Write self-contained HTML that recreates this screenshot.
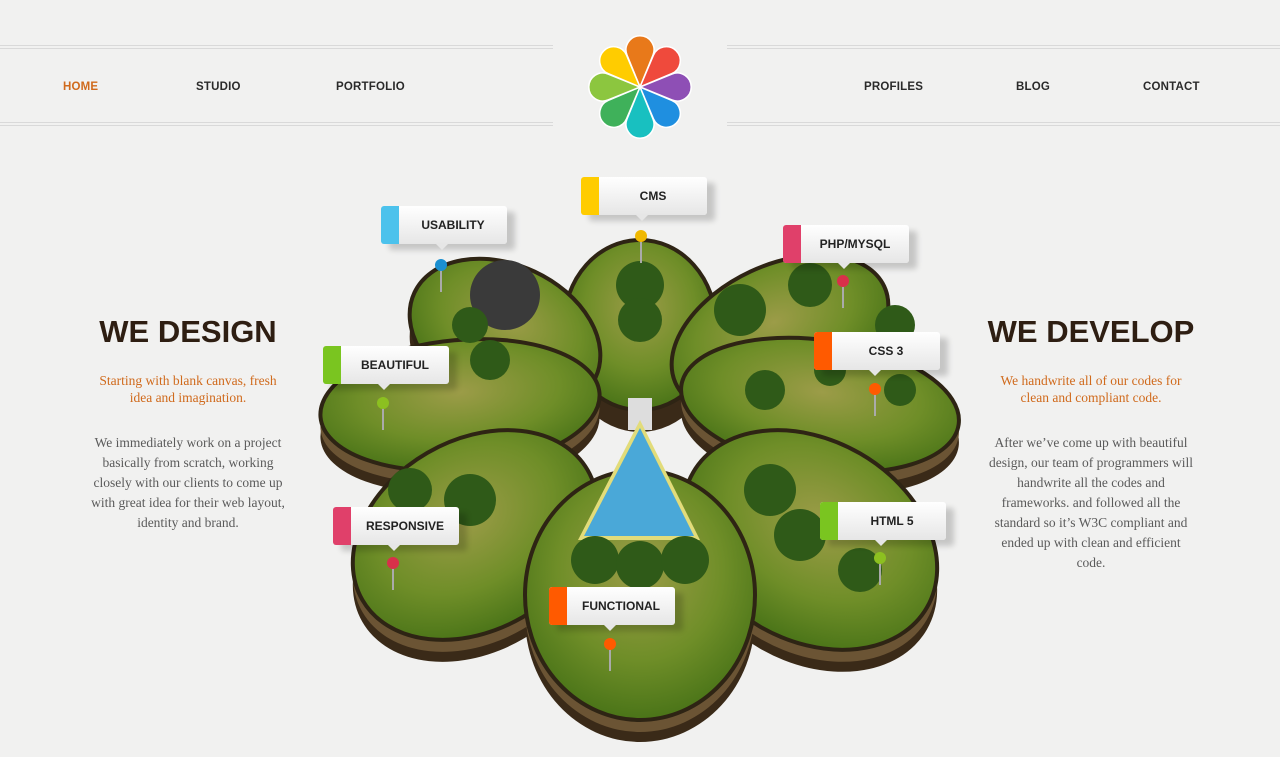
<!DOCTYPE html>
<html><head><meta charset="utf-8"><style>
*{margin:0;padding:0;box-sizing:border-box}
body{width:1280px;height:757px;background:#f1f1f0;position:relative;overflow:hidden;font-family:"Liberation Sans",sans-serif}
.hl{position:absolute;height:4px;border-top:1px solid #d9d9d9;border-bottom:1px solid #d9d9d9}
.nav{position:absolute;top:81px;font-size:11.5px;font-weight:bold;color:#2a2a2a;letter-spacing:.2px}
.h{position:absolute;font-size:31px;font-weight:bold;color:#2e1e12;text-align:center;white-space:nowrap}
.sub{position:absolute;font-family:"Liberation Serif",serif;font-size:13.5px;color:#d06a1c;text-align:center;line-height:17px}
.p{position:absolute;font-family:"Liberation Serif",serif;font-size:13.5px;color:#5a5a5a;text-align:center;line-height:20px}
.lab{position:absolute;width:126px;height:38px;background:linear-gradient(#fff,#e6e6e6);border-radius:3px;box-shadow:8px 6px 6px rgba(0,0,0,.18);font-size:12px;font-weight:bold;color:#222;line-height:38px;padding-left:18px;text-align:center}
.lab i{position:absolute;left:0;top:0;width:18px;height:38px;border-radius:3px 0 0 3px}
.lab:after{content:"";position:absolute;left:55px;bottom:-6px;border:6px solid transparent;border-top-color:#e6e6e6;border-bottom:0}
</style></head><body>
<div class="hl" style="left:0;width:553px;top:45px"></div>
<div class="hl" style="left:0;width:553px;top:122px"></div>
<div class="hl" style="left:727px;width:553px;top:45px"></div>
<div class="hl" style="left:727px;width:553px;top:122px"></div>
<div class="nav" style="left:63px;color:#d06a1c">HOME</div>
<div class="nav" style="left:196px">STUDIO</div>
<div class="nav" style="left:336px">PORTFOLIO</div>
<div class="nav" style="left:864px">PROFILES</div>
<div class="nav" style="left:1016px">BLOG</div>
<div class="nav" style="left:1143px">CONTACT</div>

<svg style="position:absolute;left:585px;top:32px" width="110" height="110" viewBox="-55 -55 110 110">
<g stroke="#fff" stroke-width="1.5">
<path fill="#e8791a" d="M0 0 L-13 -32 A14 14 0 1 1 13 -32 Z"/>
<path transform="rotate(45)" fill="#ef4a3c" d="M0 0 L-13 -32 A14 14 0 1 1 13 -32 Z"/>
<path transform="rotate(90)" fill="#8e4fb5" d="M0 0 L-13 -32 A14 14 0 1 1 13 -32 Z"/>
<path transform="rotate(135)" fill="#1f8fe0" d="M0 0 L-13 -32 A14 14 0 1 1 13 -32 Z"/>
<path transform="rotate(180)" fill="#18c0c0" d="M0 0 L-13 -32 A14 14 0 1 1 13 -32 Z"/>
<path transform="rotate(225)" fill="#3fb15a" d="M0 0 L-13 -32 A14 14 0 1 1 13 -32 Z"/>
<path transform="rotate(270)" fill="#8cc63f" d="M0 0 L-13 -32 A14 14 0 1 1 13 -32 Z"/>
<path transform="rotate(315)" fill="#ffcc00" d="M0 0 L-13 -32 A14 14 0 1 1 13 -32 Z"/>
</g></svg>

<div class="h" style="left:80px;width:216px;top:314px">WE DESIGN</div>
<div class="sub" style="left:90px;width:196px;top:372px">Starting with blank canvas, fresh idea and imagination.</div>
<div class="p" style="left:86px;width:204px;top:433px">We immediately work on a project basically from scratch, working closely with our clients to come up with great idea for their web layout, identity and brand.</div>
<div class="h" style="left:980px;width:222px;top:314px">WE DEVELOP</div>
<div class="sub" style="left:992px;width:198px;top:372px">We handwrite all of our codes for clean and compliant code.</div>
<div class="p" style="left:988px;width:206px;top:433px">After we’ve come up with beautiful design, our team of programmers will handwrite all the codes and frameworks. and followed all the standard so it’s W3C compliant and ended up with clean and efficient code.</div>

<svg style="position:absolute;left:0;top:0" width="1280" height="757">
<defs>
<radialGradient id="g" cx="50%" cy="40%" r="60%"><stop offset="0" stop-color="#9c9c48"/><stop offset=".6" stop-color="#6f8e28"/><stop offset="1" stop-color="#4a7418"/></radialGradient>
</defs>
<g fill="#3a2a18" transform="translate(0,22)">
<ellipse cx="640" cy="325" rx="76" ry="85"/>
<ellipse cx="505" cy="335" rx="100" ry="70" transform="rotate(25 505 335)"/>
<ellipse cx="460" cy="405" rx="140" ry="65" transform="rotate(-5 460 405)"/>
<ellipse cx="475" cy="535" rx="130" ry="95" transform="rotate(-30 475 535)"/>
<ellipse cx="640" cy="595" rx="115" ry="125"/>
<ellipse cx="810" cy="540" rx="135" ry="100" transform="rotate(30 810 540)"/>
<ellipse cx="820" cy="405" rx="140" ry="65" transform="rotate(8 820 405)"/>
<ellipse cx="780" cy="335" rx="115" ry="70" transform="rotate(-25 780 335)"/>
</g>
<g fill="#6b5434" transform="translate(0,12)">
<ellipse cx="460" cy="405" rx="140" ry="65" transform="rotate(-5 460 405)"/>
<ellipse cx="475" cy="535" rx="130" ry="95" transform="rotate(-30 475 535)"/>
<ellipse cx="640" cy="595" rx="115" ry="125"/>
<ellipse cx="810" cy="540" rx="135" ry="100" transform="rotate(30 810 540)"/>
<ellipse cx="820" cy="405" rx="140" ry="65" transform="rotate(8 820 405)"/>
</g>
<g fill="url(#g)" stroke="#2e2414" stroke-width="4">
<ellipse cx="640" cy="325" rx="76" ry="85"/>
<ellipse cx="505" cy="335" rx="100" ry="70" transform="rotate(25 505 335)"/>
<ellipse cx="780" cy="335" rx="115" ry="70" transform="rotate(-25 780 335)"/>
<ellipse cx="460" cy="405" rx="140" ry="65" transform="rotate(-5 460 405)"/>
<ellipse cx="820" cy="405" rx="140" ry="65" transform="rotate(8 820 405)"/>
<ellipse cx="475" cy="535" rx="130" ry="95" transform="rotate(-30 475 535)"/>
<ellipse cx="810" cy="540" rx="135" ry="100" transform="rotate(30 810 540)"/>
<ellipse cx="640" cy="595" rx="115" ry="125"/>
</g>
<path d="M628 398 L652 398 L652 430 L628 430Z" fill="#ddd"/>
<path d="M640 420 L700 540 L578 540Z" fill="#e2dc7a"/>
<path d="M640 428 L694 536 L584 536Z" fill="#4aa8d8"/>
<g fill="#2f5a18">
<circle cx="505" cy="295" r="35" fill="#3a3a3a"/>
<circle cx="640" cy="285" r="24"/><circle cx="640" cy="320" r="22"/>
<circle cx="740" cy="310" r="26"/><circle cx="810" cy="285" r="22"/>
<circle cx="765" cy="390" r="20"/><circle cx="830" cy="370" r="16"/>
<circle cx="895" cy="325" r="20"/><circle cx="900" cy="390" r="16"/>
<circle cx="470" cy="500" r="26"/><circle cx="410" cy="490" r="22"/>
<circle cx="595" cy="560" r="24"/><circle cx="640" cy="565" r="24"/><circle cx="685" cy="560" r="24"/>
<circle cx="770" cy="490" r="26"/><circle cx="800" cy="535" r="26"/><circle cx="860" cy="570" r="22"/>
<circle cx="490" cy="360" r="20"/><circle cx="470" cy="325" r="18"/>
</g>
<g stroke="#aaa" stroke-width="2">
<line x1="441" y1="265" x2="441" y2="292"/><line x1="641" y1="236" x2="641" y2="263"/><line x1="843" y1="281" x2="843" y2="308"/>
<line x1="383" y1="403" x2="383" y2="430"/><line x1="875" y1="389" x2="875" y2="416"/><line x1="393" y1="563" x2="393" y2="590"/>
<line x1="880" y1="558" x2="880" y2="585"/><line x1="610" y1="644" x2="610" y2="671"/>
</g>
<circle cx="441" cy="265" r="6" fill="#1a8fd0"/><circle cx="641" cy="236" r="6" fill="#f0b800"/><circle cx="843" cy="281" r="6" fill="#d8304a"/>
<circle cx="383" cy="403" r="6" fill="#8cc020"/><circle cx="875" cy="389" r="6" fill="#ff5a00"/><circle cx="393" cy="563" r="6" fill="#d8304a"/>
<circle cx="880" cy="558" r="6" fill="#8cc020"/><circle cx="610" cy="644" r="6" fill="#ff5a00"/>
</svg>

<div class="lab" style="left:381px;top:206px"><i style="background:#4cc2ec"></i>USABILITY</div>
<div class="lab" style="left:581px;top:177px"><i style="background:#ffcc00"></i>CMS</div>
<div class="lab" style="left:783px;top:225px"><i style="background:#e0406a"></i>PHP/MYSQL</div>
<div class="lab" style="left:323px;top:346px"><i style="background:#7ac520"></i>BEAUTIFUL</div>
<div class="lab" style="left:814px;top:332px"><i style="background:#ff5a00"></i>CSS 3</div>
<div class="lab" style="left:333px;top:507px"><i style="background:#e0406a"></i>RESPONSIVE</div>
<div class="lab" style="left:820px;top:502px"><i style="background:#7ac520"></i>HTML 5</div>
<div class="lab" style="left:549px;top:587px"><i style="background:#ff5a00"></i>FUNCTIONAL</div>
</body></html>
